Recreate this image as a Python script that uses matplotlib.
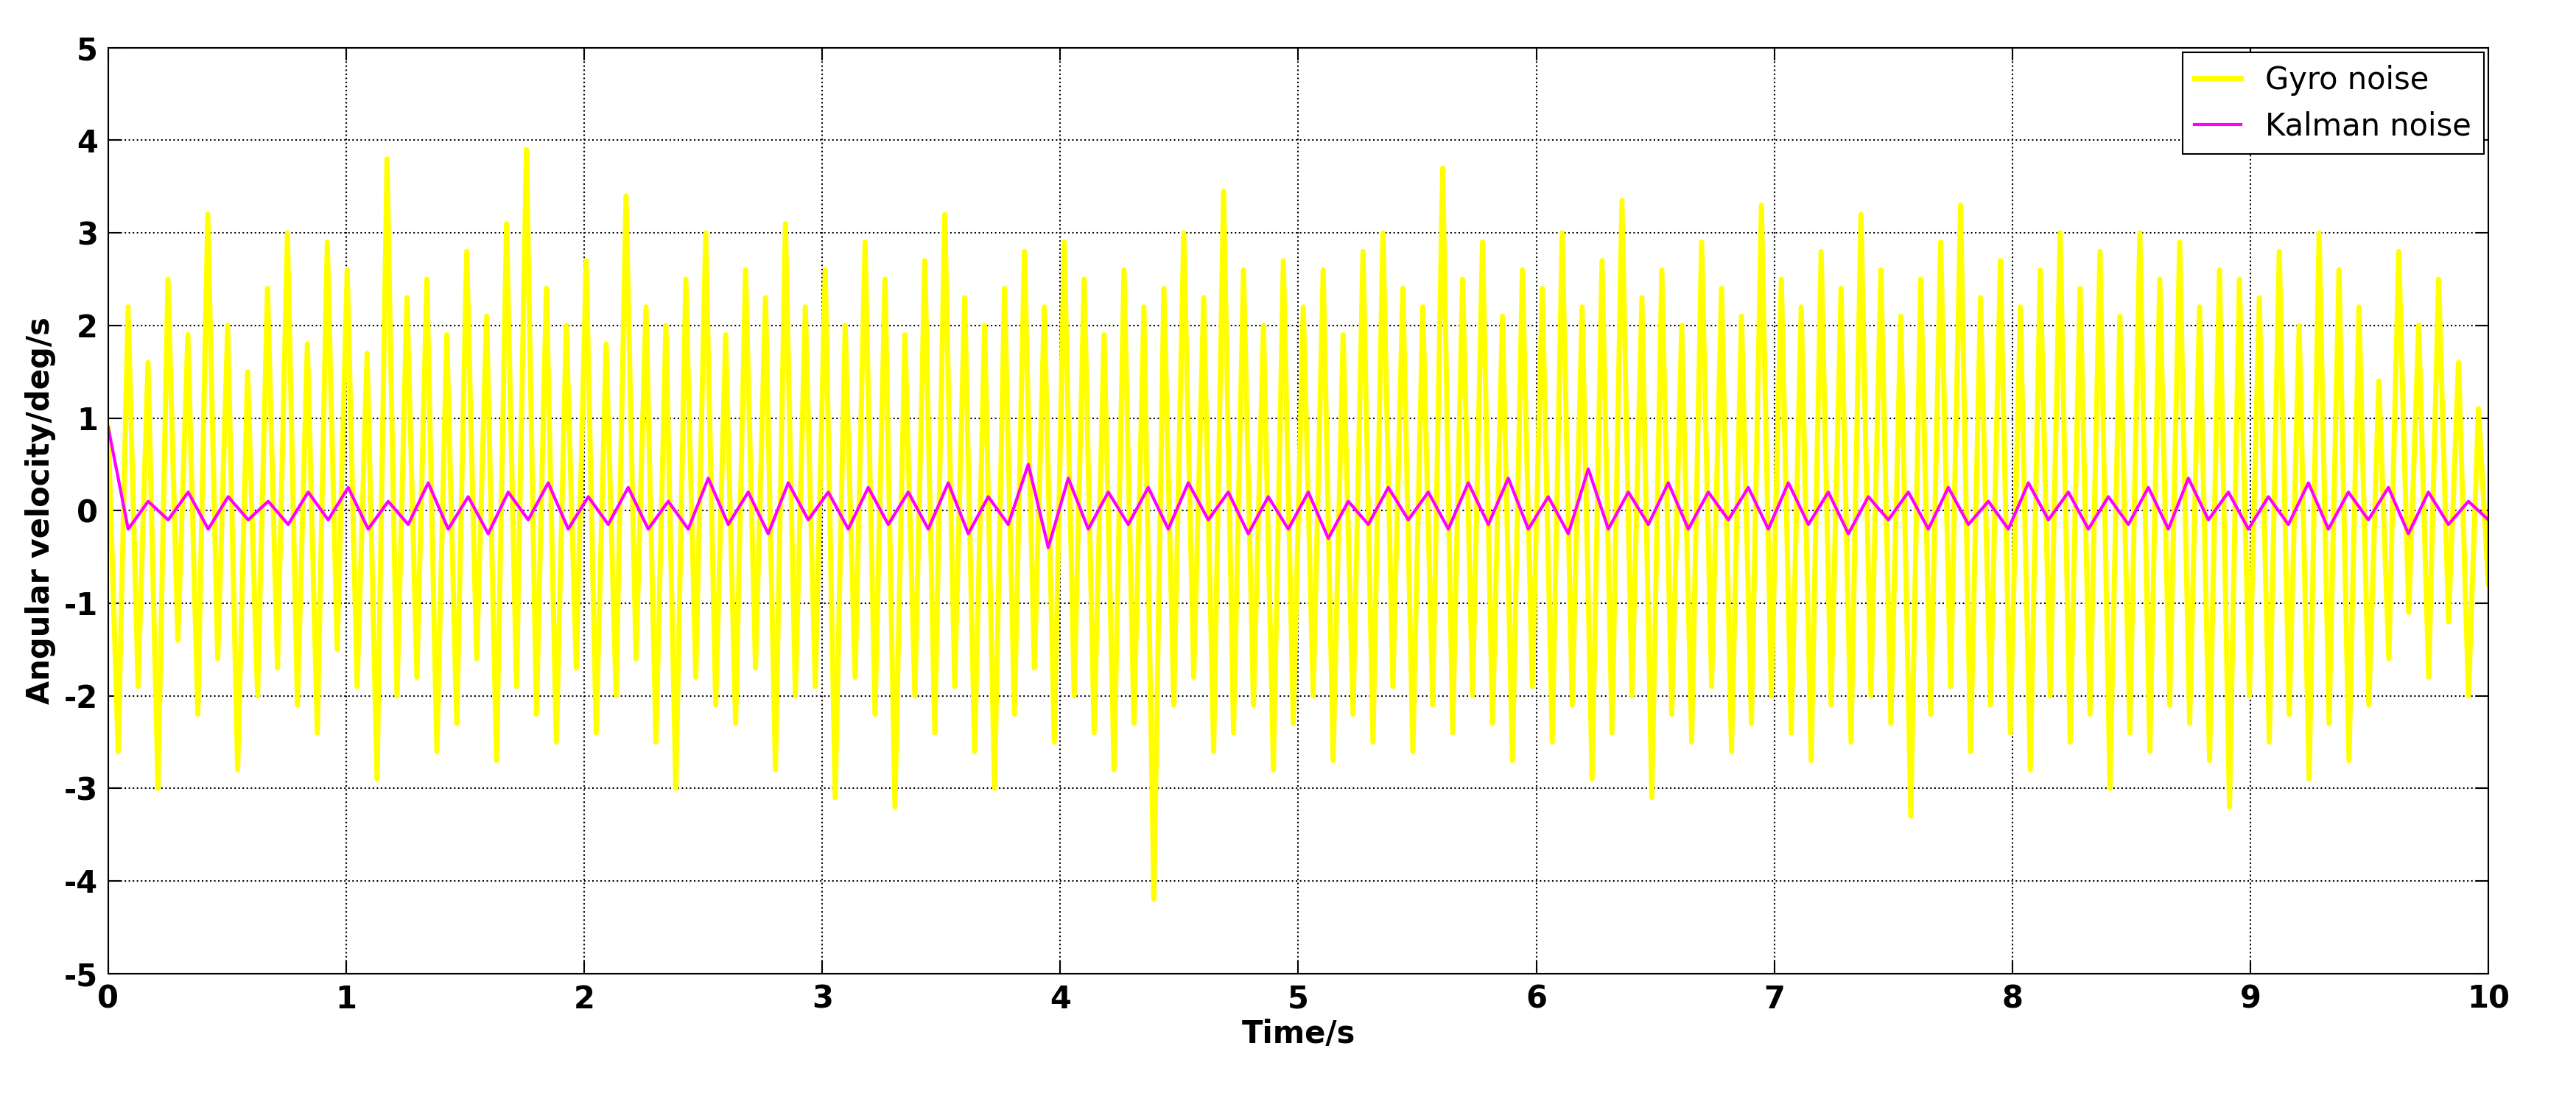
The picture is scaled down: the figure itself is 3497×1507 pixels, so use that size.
import numpy as np
import matplotlib
matplotlib.use("Agg")
import matplotlib.pyplot as plt
plt.rcParams['axes.unicode_minus'] = False

gyro = [0.9,-2.6,2.2,-1.9,1.6,-3.0,2.5,-1.4,1.9,-2.2,3.2,-1.6,2.0,-2.8,1.5,-2.0,2.4,-1.7,3.0,-2.1,1.8,-2.4,2.9,-1.5,
        2.6,-1.9,1.7,-2.9,3.8,-2.0,2.3,-1.8,2.5,-2.6,1.9,-2.3,2.8,-1.6,2.1,-2.7,3.1,-1.9,3.9,-2.2,2.4,-2.5,2.0,-1.7,
        2.7,-2.4,1.8,-2.0,3.4,-1.6,2.2,-2.5,2.0,-3.0,2.5,-1.8,3.0,-2.1,1.9,-2.3,2.6,-1.7,2.3,-2.8,3.1,-2.0,2.2,-1.9,
        2.6,-3.1,2.0,-1.8,2.9,-2.2,2.5,-3.2,1.9,-2.0,2.7,-2.4,3.2,-1.9,2.3,-2.6,2.0,-3.0,2.4,-2.2,2.8,-1.7,2.2,-2.5,
        2.9,-2.0,2.5,-2.4,1.9,-2.8,2.6,-2.3,2.2,-4.2,2.4,-2.1,3.0,-1.8,2.3,-2.6,3.45,-2.4,2.6,-2.1,2.0,-2.8,2.7,-2.3,
        2.2,-2.0,2.6,-2.7,1.9,-2.2,2.8,-2.5,3.0,-1.9,2.4,-2.6,2.2,-2.1,3.7,-2.4,2.5,-2.0,2.9,-2.3,2.1,-2.7,2.6,-1.9,
        2.4,-2.5,3.0,-2.1,2.2,-2.9,2.7,-2.4,3.35,-2.0,2.3,-3.1,2.6,-2.2,2.0,-2.5,2.9,-1.9,2.4,-2.6,2.1,-2.3,3.3,-2.0,
        2.5,-2.4,2.2,-2.7,2.8,-2.1,2.4,-2.5,3.2,-2.0,2.6,-2.3,2.1,-3.3,2.5,-2.2,2.9,-1.9,3.3,-2.6,2.3,-2.1,2.7,-2.4,
        2.2,-2.8,2.6,-2.0,3.0,-2.5,2.4,-2.2,2.8,-3.0,2.1,-2.4,3.0,-2.6,2.5,-2.1,2.9,-2.3,2.2,-2.7,2.6,-3.2,2.5,-2.0,
        2.3,-2.5,2.8,-2.2,2.0,-2.9,3.0,-2.3,2.6,-2.7,2.2,-2.1,1.4,-1.6,2.8,-1.1,2.0,-1.8,2.5,-1.2,1.6,-2.0,1.1,-0.8]
kalman = [0.9,-0.2,0.1,-0.1,0.2,-0.2,0.15,-0.1,0.1,-0.15,0.2,-0.1,0.25,-0.2,0.1,-0.15,0.3,-0.2,0.15,-0.25,
          0.2,-0.1,0.3,-0.2,0.15,-0.15,0.25,-0.2,0.1,-0.2,0.35,-0.15,0.2,-0.25,0.3,-0.1,0.2,-0.2,0.25,-0.15,
          0.2,-0.2,0.3,-0.25,0.15,-0.15,0.5,-0.4,0.35,-0.2,0.2,-0.15,0.25,-0.2,0.3,-0.1,0.2,-0.25,0.15,-0.2,
          0.2,-0.3,0.1,-0.15,0.25,-0.1,0.2,-0.2,0.3,-0.15,0.35,-0.2,0.15,-0.25,0.45,-0.2,0.2,-0.15,0.3,-0.2,
          0.2,-0.1,0.25,-0.2,0.3,-0.15,0.2,-0.25,0.15,-0.1,0.2,-0.2,0.25,-0.15,0.1,-0.2,0.3,-0.1,0.2,-0.2,
          0.15,-0.15,0.25,-0.2,0.35,-0.1,0.2,-0.2,0.15,-0.15,0.3,-0.2,0.2,-0.1,0.25,-0.25,0.2,-0.15,0.1,-0.1]
xticks = list(range(0, 11))
yticks = list(range(-5, 6))

t_g = np.linspace(0, 10, len(gyro))
t_k = np.linspace(0, 10, len(kalman))

fig = plt.figure(figsize=(34.97, 15.07), dpi=100)
ax = fig.add_axes([0.042, 0.123, 0.924, 0.834])
ax.plot(t_g, gyro, color='#ffff00', lw=5, label='Gyro noise')
ax.plot(t_k, kalman, color='#ff00ff', lw=3, label='Kalman noise')
ax.set_xlim(0, 10); ax.set_ylim(-5, 5)
ax.set_xticks(xticks); ax.set_yticks(yticks)
ax.grid(True, linestyle=':', color='black', lw=1.5)
ax.tick_params(labelsize=30, direction='in', length=12, width=1.5, top=True, right=True, pad=10)
for l in ax.get_xticklabels() + ax.get_yticklabels():
    l.set_fontweight('bold')
for s in ax.spines.values():
    s.set_linewidth(1.5)
ax.set_xlabel('Time/s', fontsize=30, fontweight='bold', labelpad=4)
ax.set_ylabel('Angular velocity/deg/s', fontsize=30, fontweight='bold', labelpad=8)
leg = ax.legend(loc='upper right', fontsize=30, fancybox=False, framealpha=1, edgecolor='black',
                borderaxespad=0.15, handlelength=1.5)
leg.get_frame().set_linewidth(1.5)
fig.savefig('out.png', dpi=100)
